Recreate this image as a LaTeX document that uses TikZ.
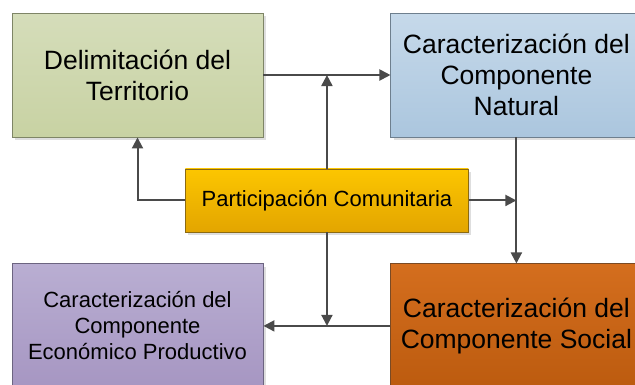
\documentclass[tikz,border=0pt]{standalone}
\usepackage{fontspec}
\setmainfont{Liberation Sans}
\usetikzlibrary{positioning,calc,shadows,arrows.meta}
\definecolor{grTop}{HTML}{D5DDBA}
\definecolor{grBot}{HTML}{C8D2A3}
\definecolor{grLine}{HTML}{7E8566}
\definecolor{blTop}{HTML}{C6D9EA}
\definecolor{blBot}{HTML}{ABC6DE}
\definecolor{blLine}{HTML}{6E7F8E}
\definecolor{yeTop}{HTML}{FCC600}
\definecolor{yeBot}{HTML}{E3A500}
\definecolor{yeLine}{HTML}{8C6A12}
\definecolor{puTop}{HTML}{B9AED2}
\definecolor{puBot}{HTML}{A696C2}
\definecolor{puLine}{HTML}{6C6480}
\definecolor{orTop}{HTML}{D46E1E}
\definecolor{orBot}{HTML}{BC5B0F}
\definecolor{orLine}{HTML}{7A4A24}
\definecolor{conn}{HTML}{4A4A4A}

\begin{document}
\begin{tikzpicture}[x=1pt, y=1pt,
	box/.style={line width=0.9pt, minimum width=251pt, minimum height=124pt, align=center,
		font=\fontsize{26.5}{31}\selectfont,
		drop shadow={fill=black!13, opacity=1, shadow xshift=3pt, shadow yshift=-3pt}},
	terrbox/.style={box, draw=grLine, top color=grTop, bottom color=grBot},
	natbox/.style={box, draw=blLine, top color=blTop, bottom color=blBot},
	socbox/.style={box, draw=orLine, top color=orTop, bottom color=orBot},
	ecobox/.style={box, draw=puLine, top color=puTop, bottom color=puBot, font=\fontsize{22}{26}\selectfont},
	partbox/.style={box, draw=yeLine, top color=yeTop, bottom color=yeBot,
		minimum width=283pt, minimum height=63pt, font=\fontsize{22}{26}\selectfont},
	link/.style={line width=2pt, draw=conn, -{Triangle[length=11pt, width=11pt]}}]
	\useasboundingbox (0,0) rectangle (635,-384);
	\clip (0,0) rectangle (635,-384);
	\node[terrbox] (terr) at (137.5,-75) {Delimitación del\\Territorio};
	\node[natbox, right=127pt of terr] (nat) {Caracterización del\\Componente\\Natural};
	\node[ecobox, below=126pt of terr] (eco) {Caracterización del\\Componente\\Económico Productivo};
	\node[socbox, below=126pt of nat] (soc) {Caracterización del\\Componente Social};
	\node[partbox] (part) at ($(terr)!0.5!(soc)$) {Participación Comunitaria};
	\draw[link] (terr.east) -- (nat.west);
	\draw[link] (part.north) -- (part.north |- terr.east);
	\draw[link] (nat.south) -- (soc.north);
	\draw[link] (part.east) -- (nat.south |- part.east);
	\draw[link] (part.west) -| (terr.south);
	\draw[link] (part.south) -- (part.south |- soc.west);
	\draw[link] (soc.west) -- (eco.east);
\end{tikzpicture}
\end{document}
